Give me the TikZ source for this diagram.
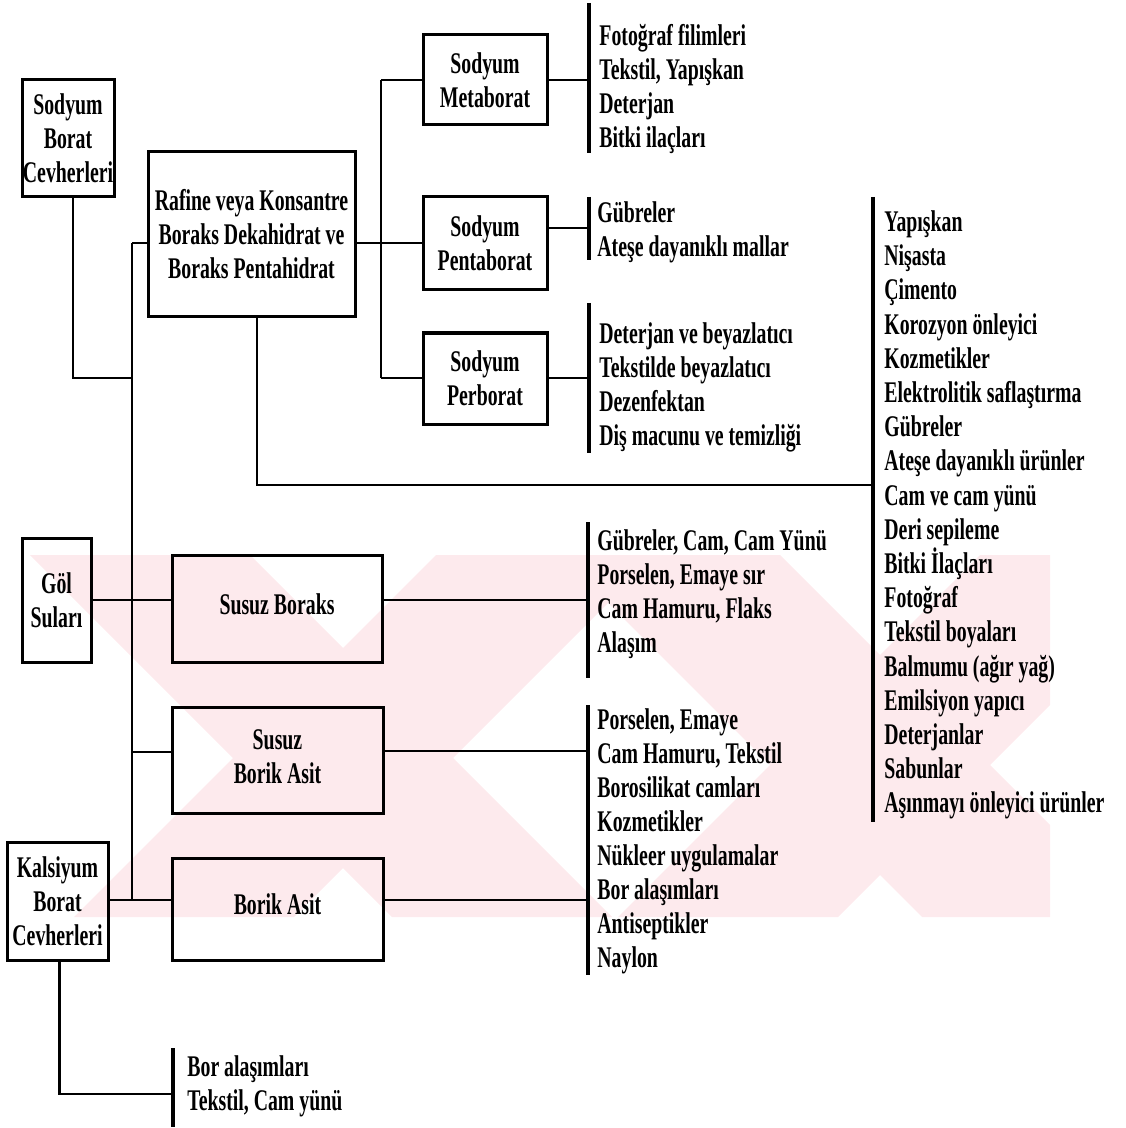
\documentclass[tikz,border=0pt]{standalone}
\usepackage{fontspec}
\setmainfont{Liberation Serif Bold}[FakeStretch=0.66]
\definecolor{wm}{RGB}{253,234,237}
\begin{document}
\begin{tikzpicture}[x=0.5pt,y=-0.5pt,
  font=\fontsize{15}{17}\selectfont,
  box/.style={draw, line width=1.5pt, inner sep=0pt, align=center},
  conn/.style={line width=1.3pt},
  brk/.style={line width=1.6pt},
  lst/.style={anchor=west, align=left, inner sep=0pt}]
\useasboundingbox (0,0) rectangle (1125,1128);
% watermark
\begin{scope}
\clip (28,555) rectangle (1050,917);
\fill[wm] (30,555) -- (250,555) -- (612,917) -- (392,917) -- cycle;
\fill[wm] (436,555) -- (656,555) -- (294,917) -- (74,917) -- cycle;
\fill[wm] (560,555) -- (780,555) -- (1142,917) -- (922,917) -- cycle;
\fill[wm] (980,555) -- (1200,555) -- (838,917) -- (618,917) -- cycle;
\end{scope}
% boxes
\node[box, minimum width=46pt, minimum height=58.5pt] (sbc) at (68,138.5) {Sodyum\\Borat\\Cevherleri};
\node[box, minimum width=103.5pt, minimum height=82.5pt] (raf) at (251.5,234.5) {Rafine veya Konsantre\\Boraks Dekahidrat ve\\Boraks Pentahidrat};
\node[box, minimum width=62pt, minimum height=45pt] (meta) at (485,80) {Sodyum\\Metaborat};
\node[box, minimum width=62pt, minimum height=46.5pt] (penta) at (485,243.5) {Sodyum\\Pentaborat};
\node[box, minimum width=62pt, minimum height=45.5pt] (per) at (485,378.5) {Sodyum\\Perborat};
\node[box, minimum width=34.5pt, minimum height=62pt] (gol) at (56.5,600) {Göl\\Suları};
\node[box, minimum width=105pt, minimum height=53.5pt] (sb) at (277,608.5) {\raisebox{4pt}{Susuz Boraks}};
\node[box, minimum width=105.5pt, minimum height=53pt] (sba) at (277.5,760) {\raisebox{3.5pt}{\begin{tabular}{@{}c@{}}Susuz\\Borik Asit\end{tabular}}};
\node[box, minimum width=105.5pt, minimum height=51pt] (ba) at (277.5,909) {\raisebox{4.5pt}{Borik Asit}};
\node[box, minimum width=50.5pt, minimum height=59pt] (kal) at (57.5,901) {Kalsiyum\\Borat\\Cevherleri};
% junction coordinates
\coordinate (ttop) at (132,243);
\coordinate (tbot) at (132,900);
\coordinate (j1) at (132,378);
\coordinate (jsba) at (132,752);
\coordinate (vtop) at (381,80);
\coordinate (vmid) at (381,243);
\coordinate (vbot) at (381,378);
\coordinate (rb) at (257,485);
\coordinate (bigc) at (873,485);
\coordinate (bigt) at (873,197);
\coordinate (bigb) at (873,822);
\coordinate (mc) at (589,80);
\coordinate (mt) at (589,3);
\coordinate (mb) at (589,153);
\coordinate (pc) at (589,228);
\coordinate (pt) at (589,197);
\coordinate (pb) at (589,260);
\coordinate (rc) at (589,378);
\coordinate (rt) at (589,303);
\coordinate (rbb) at (589,453);
\coordinate (sc) at (588,600);
\coordinate (st) at (588,522);
\coordinate (sbb) at (588,678);
\coordinate (ac) at (588,751);
\coordinate (bc) at (588,900);
\coordinate (at) at (588,705);
\coordinate (ab) at (588,975);
\coordinate (kc) at (173,1094);
\coordinate (kt) at (173,1048);
\coordinate (kb) at (173,1127);
% connectors
\draw[conn] ([xshift=2.5pt]sbc.south) |- (j1);
\draw[conn] (ttop) -- (tbot);
\draw[conn] (ttop) -- (ttop -| raf.west);
\draw[conn] (vmid -| raf.east) -- (vmid);
\draw[conn] (vtop) -- (vbot);
\draw[conn] (vtop) -- (vtop -| meta.west);
\draw[conn] (vmid) -- (vmid -| penta.west);
\draw[conn] (vbot) -- (vbot -| per.west);
\draw[conn] (mc -| meta.east) -- (mc);
\draw[conn] (pc -| penta.east) -- (pc);
\draw[conn] (rc -| per.east) -- (rc);
\draw[brk] (mt) -- (mb);
\draw[brk] (pt) -- (pb);
\draw[brk] (rt) -- (rbb);
\draw[conn] (rb |- raf.south) -- (rb) -- (bigc);
\draw[brk] (bigt) -- (bigb);
\draw[conn] (gol.east) -- (gol.east -| sb.west);
\draw[conn] (jsba) -- (jsba -| sba.west);
\draw[conn] (kal.east |- tbot) -- (tbot -| ba.west);
\draw[conn] (sc -| sb.east) -- (sc);
\draw[conn] (ac -| sba.east) -- (ac);
\draw[conn] (bc -| ba.east) -- (bc);
\draw[brk] (st) -- (sbb);
\draw[brk] (at) -- (ab);
\draw[conn] ([xshift=1pt]kal.south) |- (kc);
\draw[brk] (kt) -- (kb);
% lists
\node[lst] (lmeta) at (599,89) {Fotoğraf filimleri\\Tekstil, Yapışkan\\Deterjan\\Bitki ilaçları};
\node[lst] (lpenta) at (597,232) {Gübreler\\Ateşe dayanıklı mallar};
\node[lst] (lper) at (599,387) {Deterjan ve beyazlatıcı\\Tekstilde beyazlatıcı\\Dezenfektan\\Diş macunu ve temizliği};
\node[lst, font=\fontsize{15}{17.1}\selectfont] (lbig) at (884,515) {Yapışkan\\Nişasta\\Çimento\\Korozyon önleyici\\Kozmetikler\\Elektrolitik saflaştırma\\Gübreler\\Ateşe dayanıklı ürünler\\Cam ve cam yünü\\Deri sepileme\\Bitki İlaçları\\Fotoğraf\\Tekstil boyaları\\Balmumu (ağır yağ)\\Emilsiyon yapıcı\\Deterjanlar\\Sabunlar\\Aşınmayı önleyici ürünler};
\node[lst] (lsb) at (597,594) {Gübreler, Cam, Cam Yünü\\Porselen, Emaye sır\\Cam Hamuru, Flaks\\Alaşım};
\node[lst] (lba) at (597,841) {Porselen, Emaye\\Cam Hamuru, Tekstil\\Borosilikat camları\\Kozmetikler\\Nükleer uygulamalar\\Bor alaşımları\\Antiseptikler\\Naylon};
\node[lst] (lkal) at (187,1086) {Bor alaşımları\\Tekstil, Cam yünü};
\end{tikzpicture}
\end{document}
